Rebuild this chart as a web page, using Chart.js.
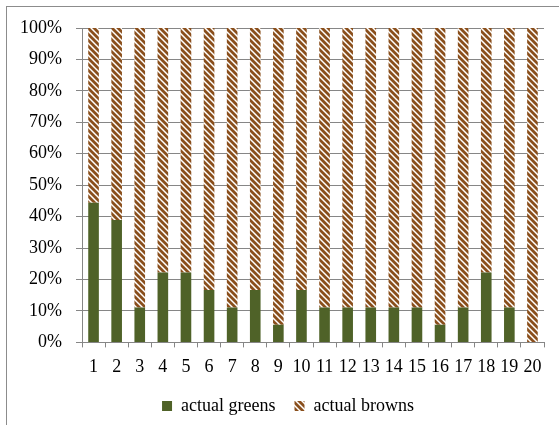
<!DOCTYPE html>
<html>
<head>
<meta charset="utf-8">
<script src="https://cdn.jsdelivr.net/npm/chart.js@4/dist/chart.umd.min.js"></script>
<style>
  body { margin: 0; background: #fff; }
  #wrap { position: relative; width: 559px; height: 425px; }
  #frame { position: absolute; left: 6px; top: 6px; width: 600px; height: 500px;
           border-top: 1px solid #8c8c8c; border-left: 1px solid #8c8c8c; }
  canvas { position: absolute; left: 0; top: 0; }
</style>
</head>
<body>
<div id="wrap">
  <div id="frame"></div>
  <canvas id="canvas" width="559" height="425"></canvas>
</div>
<script>
// categories 1..20
const categories = ['1','2','3','4','5','6','7','8','9','10','11','12','13','14','15','16','17','18','19','20'];
// share of each bar, in percent
const greens = [44.4, 38.9, 11.1, 22.2, 22.2, 16.7, 11.1, 16.7, 5.6, 16.7, 11.1, 11.1, 11.1, 11.1, 11.1, 5.6, 11.1, 22.2, 11.1, 0];
const browns = [55.6, 61.1, 88.9, 77.8, 77.8, 83.3, 88.9, 83.3, 94.4, 83.3, 88.9, 88.9, 88.9, 88.9, 88.9, 94.4, 88.9, 77.8, 88.9, 100];
const yTicks = [0, 10, 20, 30, 40, 50, 60, 70, 80, 90, 100];

// brown downward diagonal stripes
function stripePattern() {
  const c = document.createElement('canvas');
  c.width = 6; c.height = 6;
  const g = c.getContext('2d');
  g.fillStyle = '#fff';
  g.fillRect(0, 0, 6, 6);
  g.strokeStyle = '#8a4f1c';
  g.lineWidth = 2.8;
  g.beginPath();
  g.moveTo(-3, -3); g.lineTo(9, 9);
  g.moveTo(-3, 3); g.lineTo(3, 9);
  g.moveTo(3, -3); g.lineTo(9, 3);
  g.stroke();
  return g.createPattern(c, 'repeat');
}

const serif = { family: '"Liberation Serif", "Times New Roman", serif', size: 18 };
const axisGray = '#868686';

// nudge the legend a bit to the right, like the original
const legendShift = {
  id: 'legendShift',
  afterLayout(chart) {
    chart.legend.left += 8;
    chart.legend.right += 8;
  }
};

const config = {
  type: 'bar',
  data: {
    labels: categories,
    datasets: [
      { label: 'actual greens  ', data: greens, backgroundColor: '#4f6228' },
      { label: 'actual browns', data: browns, backgroundColor: stripePattern() }
    ]
  },
  options: {
    responsive: false,
    animation: false,
    layout: { padding: { left: 16, right: 15, top: 28, bottom: 0 } },
    datasets: { bar: { barPercentage: 0.46, categoryPercentage: 1 } },
    scales: {
      x: {
        stacked: true,
        grid: { offset: true, drawOnChartArea: false, drawTicks: true, tickLength: 5, color: axisGray },
        border: { color: axisGray },
        ticks: { color: '#000', font: serif, autoSkip: false, maxRotation: 0, padding: 9 }
      },
      y: {
        stacked: true,
        min: 0, max: 100,
        afterBuildTicks: s => { s.ticks = yTicks.map(v => ({ value: v })); },
        afterFit: s => { s.width = 66; },
        grid: { color: axisGray, tickLength: 6 },
        border: { color: axisGray },
        ticks: { color: '#000', font: serif, padding: 14, callback: v => v + '%' }
      }
    },
    plugins: {
      tooltip: { enabled: false },
      legend: {
        position: 'bottom',
        labels: { color: '#000', font: serif, boxWidth: 10, boxHeight: 10, padding: 10 }
      }
    }
  },
  plugins: [legendShift]
};

window.myChart = new Chart(document.getElementById('canvas'), config);
</script>
</body>
</html>
